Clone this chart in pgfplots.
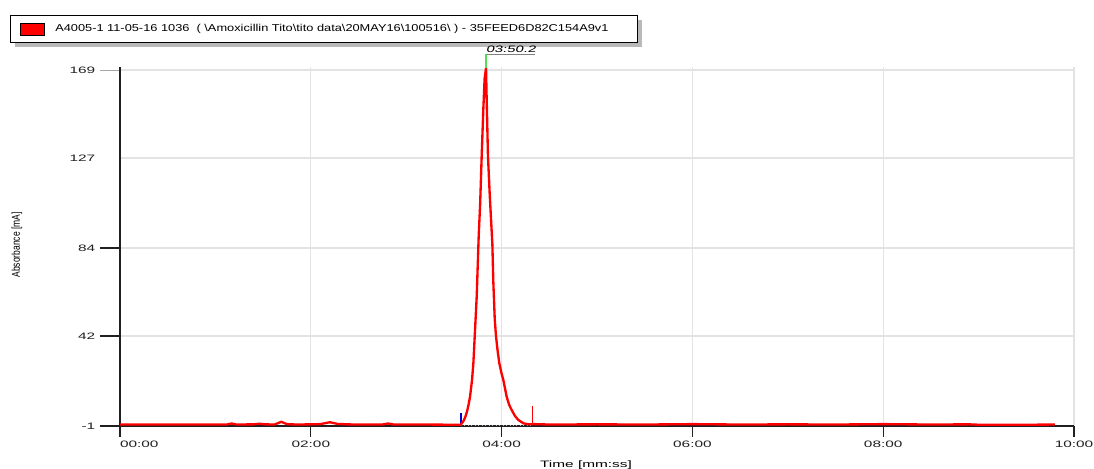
\documentclass[border=0pt]{standalone}
\usepackage{pgfplots}
\pgfplotsset{compat=1.18}
\usepackage{fontspec}
\setmainfont{Liberation Sans}
\newfontfamily\tickfont[FakeStretch=1.65]{Liberation Sans}
\newfontfamily\tickfontit[FakeStretch=1.6,FakeSlant=0.2]{Liberation Sans}
\newfontfamily\ylabfont[FakeStretch=0.75]{Liberation Sans}
\newfontfamily\legfont[FakeStretch=1.28]{Liberation Sans}
\definecolor{gridc}{HTML}{E3E3E3}
\definecolor{axc}{HTML}{202020}
\definecolor{peakgreen}{HTML}{55DD55}

\pgfplotstableread{
t v
0.00 -0.3
0.50 -0.3
1.00 -0.3
1.12 -0.3
1.17 0.2
1.22 -0.3
1.40 -0.2
1.46 0.1
1.52 -0.2
1.62 -0.3
1.69 1.0
1.75 -0.1
1.85 -0.3
2.00 -0.2
2.10 -0.1
2.20 0.8
2.28 0.0
2.45 -0.3
2.75 -0.3
2.81 0.2
2.87 -0.3
3.20 -0.3
3.50 -0.4
3.575 -0.4
3.582 0.3
3.595 1.0
3.606 1.9
3.625 4.0
3.641 6.6
3.655 9.5
3.669 13
3.690 21
3.704 29
3.718 41.7
3.739 60.8
3.760 90
3.775 105
3.791 127.7
3.808 150
3.822 165
3.8367 170
3.843 156
3.857 128
3.875 110
3.890 97
3.903 86
3.913 68
3.928 50
3.941 42
3.958 35
3.976 29
4.000 24
4.018 21
4.053 13
4.080 9
4.106 6.6
4.140 3.8
4.175 1.9
4.228 0.3
4.280 -0.2
4.350 -0.1
4.500 -0.3
5.000 -0.2
5.500 -0.3
6.000 -0.1
6.500 -0.3
7.000 -0.2
7.500 -0.3
8.000 -0.1
8.500 -0.3
8.900 -0.2
9.000 -0.4
9.500 -0.4
9.800 -0.3
}\chrom

\begin{document}
\begin{tikzpicture}
\path[use as bounding box] (0,0) rectangle (820.5pt,351pt);
% legend box
\fill[gray!55] (11.25pt,315.75pt) rectangle (481.5pt,336pt);
\filldraw[fill=white,draw=black,line width=0.6pt] (7.5pt,319.5pt) rectangle (477.75pt,339.75pt);
\filldraw[fill=red,draw=black,line width=0.4pt] (15pt,324.75pt) rectangle (33pt,333.75pt);
\node[anchor=west,inner sep=0pt] at (41.25pt,329.25pt) {\legfont\fontsize{7.5}{9}\selectfont A4005-1 11-05-16 1036 \ ( \textbackslash Amoxicillin Tito\textbackslash tito data\textbackslash 20MAY16\textbackslash 100516\textbackslash\ ) - 35FEED6D82C154A9v1};
% axis labels
\node[rotate=90,inner sep=0pt] at (12.75pt,167.25pt) {\ylabfont\fontsize{8.5}{10}\selectfont Absorbance [mA]};
\node[anchor=base,inner sep=0pt] at (439.5pt,0.4pt) {\tickfont\fontsize{7}{8}\selectfont Time [mm:ss]};
% peak label
\node[anchor=base west,inner sep=0pt] at (364.3pt,311.5pt) {\tickfontit\fontsize{7}{8}\selectfont 03:50.2};
\draw[gray,line width=0.8pt] (363.5pt,310.3pt) -- (401.5pt,310.3pt);
% y tick marks (axis left edge at x=90pt, y = 31.5pt + (v+1)*269.25/171.5)
\draw[axc, line width=0.9pt] (75pt,31.5pt) -- (90pt,31.5pt);
\draw[axc, line width=0.9pt] (75pt,99.01pt) -- (90pt,99.01pt);
\draw[axc, line width=0.9pt] (75pt,164.95pt) -- (90pt,164.95pt);
\draw[gray!70, line width=0.9pt] (75pt,298.4pt) -- (90pt,298.4pt);

\begin{axis}[
  at={(90pt,31.5pt)}, anchor=south west,
  scale only axis, width=715.5pt, height=269.25pt,
  xmin=0, xmax=10, ymin=-1, ymax=170.5,
  clip=false,
  axis x line=bottom, axis y line=left,
  axis line style={-, draw=axc, line width=0.9pt},
  tick align=outside, major tick length=8pt,
  xtick={0,2,4,6,8,10},
  xticklabels={\makebox[0pt][l]{00:00},02:00,04:00,06:00,08:00,10:00},
  ytick={-1,42,84,127,169},
  yticklabels={-1,42,84,127,169},
  ytick style={draw=none},
  xtick style={draw=axc, line width=0.9pt},
  grid=major, grid style={draw=gridc, line width=1pt},
  ticklabel style={font=\tickfont\fontsize{7}{8}\selectfont, text=axc},
  yticklabel shift=7pt,
]
\addplot[gray!60, dotted, line width=0.6pt] coordinates {(3.574,-0.6) (4.326,-0.6)};
\addplot[blue!80!black, line width=0.9pt] coordinates {(3.574,-0.5) (3.574,5.4)};
\addplot[red, line width=0.9pt] coordinates {(4.326,-0.5) (4.326,8.7)};
\addplot[red, line width=1.75pt, line join=round] table[x=t,y=v] {\chrom};
\addplot[peakgreen, line width=0.9pt] coordinates {(3.8367,170) (3.8367,176.6)};
\end{axis}
\end{tikzpicture}
\end{document}
